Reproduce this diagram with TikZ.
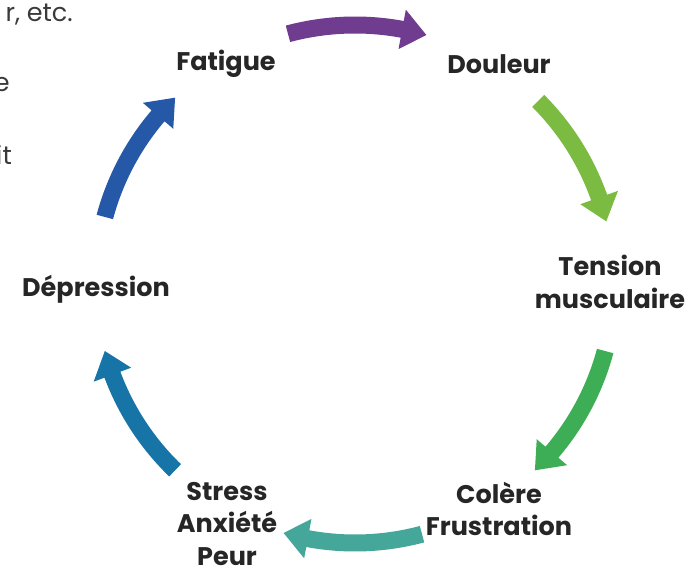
\documentclass[tikz,border=0pt]{standalone}
\usepackage{fontspec}
\setmainfont{Poppins}
\definecolor{cPurple}{HTML}{703C8F}
\definecolor{cLime}{HTML}{7CBB42}
\definecolor{cGreen}{HTML}{3DAE55}
\definecolor{cTeal}{HTML}{45A69A}
\definecolor{cSteel}{HTML}{1774A6}
\definecolor{cBlue}{HTML}{2559A7}
\definecolor{cText}{HTML}{262626}
\definecolor{cGrey}{HTML}{3A3A3A}
\newcommand\cyclearrow[3]{%
  \pgfmathsetmacro\arrhead{#3+5.5}%
  \fill[#1] (#2:267.5pt) arc[start angle=#2, end angle=\arrhead, radius=267.5pt]
    -- (\arrhead:279pt) -- (#3:259pt) -- (\arrhead:239pt) -- (\arrhead:250.5pt)
    arc[start angle=\arrhead, end angle=#2, radius=250.5pt] -- cycle;}
\tikzset{
  lbl/.style={font=\bfseries\fontsize{25.5}{32.5}\selectfont, text=cText, align=center, inner sep=0pt},
  frag/.style={font=\fontsize{25.5}{32}\selectfont, text=cGrey, inner sep=0pt, anchor=base east}
}
\begin{document}
\begin{tikzpicture}[x=1pt,y=1pt]
\useasboundingbox (0,0) rectangle (689,571);
\begin{scope}[shift={(355,287)}]
  \cyclearrow{cPurple}{105}{74}
  \cyclearrow{cLime}{45}{14}
  \cyclearrow{cGreen}{-15}{-46}
  \cyclearrow{cTeal}{-75}{-106}
  \cyclearrow{cSteel}{-134}{-165}
  \cyclearrow{cBlue}{165}{134}
\end{scope}
\node[lbl] (fat) at (226,507) {Fatigue};
\node[lbl] (dou) at (499,507) {Douleur};
\node[lbl] (ten) at (610,289) {Tension\\musculaire};
\node[lbl] (col) at (499,62) {Colère\\Frustration};
\node[lbl] (str) at (227,47) {Stress\\Anxiété\\Peur};
\node[lbl] (dep) at (96,282) {Dépression};
\node[frag] (f1) at (73,549) {r, etc.};
\node[frag] (f2) at (10,479) {e};
\node[frag] (f3) at (12,406) {it};
\end{tikzpicture}
\end{document}
